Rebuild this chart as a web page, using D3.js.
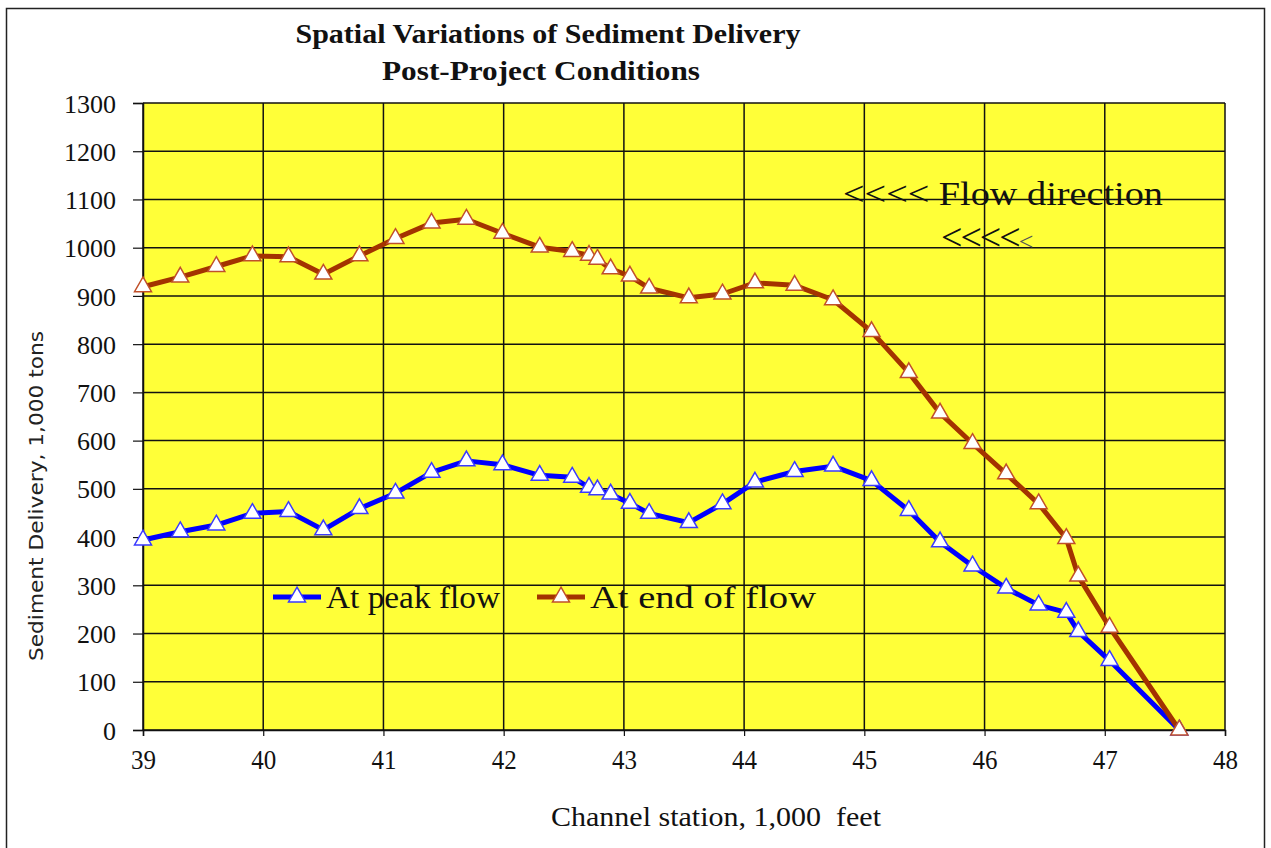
<!DOCTYPE html>
<html>
<head>
<meta charset="utf-8">
<script src="https://cdn.jsdelivr.net/npm/d3@7"></script>
<style>
  body { margin: 0; background: #fff; }
  svg { display: block; }
</style>
</head>
<body>
<svg id="chart" width="1271" height="848"></svg>
<script>
// channel stations, 1,000 ft
var stations = [39.0, 39.31, 39.61, 39.91, 40.21, 40.50, 40.80, 41.10, 41.40, 41.69, 41.99, 42.30,
  42.57, 42.71, 42.78, 42.89, 43.05, 43.21, 43.54, 43.82, 44.09, 44.42, 44.74,
  45.06, 45.37, 45.63, 45.90, 46.18, 46.45, 46.68, 46.78, 47.04, 47.62];
// sediment delivery, 1,000 tons
var peakFlow = [394, 411, 425, 449, 453, 415, 459, 491, 534, 558, 550, 528,
  524, 503, 498, 489, 470, 449, 430, 469, 514, 536, 547,
  517, 455, 390, 340, 294, 259, 244, 204, 144, 0];
var endFlow = [919, 939, 961, 983, 981, 945, 983, 1019, 1051, 1059, 1030, 1001,
  992, 984, 976, 956, 941, 916, 896, 904, 927, 922, 892,
  826, 741, 657, 594, 531, 469, 397, 319, 213, 0];
var xTicks = [39, 40, 41, 42, 43, 44, 45, 46, 47, 48];
var yTicks = d3.range(0, 1301, 100);

var svg = d3.select("#chart");
var serif = "'Liberation Serif', 'Times New Roman', serif";

// plot box (note: "top" is taken by window.top)
var pLeft = 143, pRight = 1225, pTop = 103, pBottom = 730;

var x = d3.scaleLinear().domain([39, 48]).range([pLeft, pRight]);
var y = d3.scaleLinear().domain([0, 1300]).range([pBottom, pTop]);

// outer frame
svg.append("rect")
    .attr("x", 6.5).attr("y", 8.5)
    .attr("width", 1258).attr("height", 850)
    .attr("fill", "none")
    .attr("stroke", "#222")
    .attr("stroke-width", 1.5);

// plot area
svg.append("rect")
    .attr("x", pLeft).attr("y", pTop)
    .attr("width", pRight - pLeft).attr("height", pBottom - pTop)
    .attr("fill", "#ffff38");

// grid
svg.append("g")
  .selectAll("line")
  .data(yTicks)
  .enter().append("line")
    .attr("x1", pLeft).attr("x2", pRight)
    .attr("y1", d => y(d)).attr("y2", d => y(d))
    .attr("stroke", "#111").attr("stroke-width", 1.5);

svg.append("g")
  .selectAll("line")
  .data(xTicks)
  .enter().append("line")
    .attr("x1", d => x(d)).attr("x2", d => x(d))
    .attr("y1", pTop).attr("y2", pBottom)
    .attr("stroke", "#111").attr("stroke-width", 1.5);

// axes
var yAxis = svg.append("g")
    .attr("transform", "translate(" + pLeft + ",0)")
    .call(d3.axisLeft(y).tickValues(yTicks).tickSize(10).tickPadding(17).tickFormat(d3.format("d")));
var xAxis = svg.append("g")
    .attr("transform", "translate(0," + pBottom + ")")
    .call(d3.axisBottom(x).tickValues(xTicks).tickSize(6).tickPadding(13).tickFormat(d3.format("d")));

[yAxis, xAxis].forEach(function(g) {
  g.select(".domain").attr("stroke", "#111").attr("stroke-width", 1.5);
  g.selectAll(".tick line").attr("stroke", "#111").attr("stroke-width", 1.2);
  g.selectAll("text")
    .attr("font-family", serif)
    .attr("fill", "#111");
});
yAxis.selectAll("text").attr("font-size", 26).attr("dy", "0.35em");
xAxis.selectAll("text").attr("font-size", 28)
    .attr("textLength", 25).attr("lengthAdjust", "spacingAndGlyphs");

// series
var line = d3.line()
    .x((d, i) => x(stations[i]))
    .y(d => y(d));

var series = [
  {name: "At peak flow", values: peakFlow, line: "#0000ff", marker: "#3a3aff", len: 174},
  {name: "At end of flow", values: endFlow, line: "#a33300", marker: "#c0502a", len: 226}
];

var tri = d3.symbol().type(d3.symbolTriangle).size(125);

series.forEach(function(s) {
  svg.append("path")
      .attr("d", line(s.values))
      .attr("fill", "none")
      .attr("stroke", s.line)
      .attr("stroke-width", 5)
      .attr("stroke-linejoin", "round");
});

series.forEach(function(s) {
  svg.append("g")
    .selectAll("path")
    .data(s.values)
    .enter().append("path")
      .attr("d", tri)
      .attr("transform", (d, i) => "translate(" + x(stations[i]) + "," + y(d) + ")")
      .attr("fill", "#fff")
      .attr("stroke", s.marker)
      .attr("stroke-width", 1.5);
});

// legend
var legendPos = [{lx: 273, tx: 326}, {lx: 537, tx: 590}];
series.forEach(function(s, i) {
  var p = legendPos[i];
  var g = svg.append("g").attr("transform", "translate(0,597)");
  g.append("line")
      .attr("x1", p.lx).attr("x2", p.lx + 48)
      .attr("stroke", s.line).attr("stroke-width", 5);
  g.append("path")
      .attr("d", tri)
      .attr("transform", "translate(" + (p.lx + 24) + ",0)")
      .attr("fill", "#fff").attr("stroke", s.marker).attr("stroke-width", 1.5);
  g.append("text")
      .attr("x", p.tx).attr("y", 11)
      .attr("font-family", serif).attr("font-size", 32)
      .attr("textLength", s.len).attr("lengthAdjust", "spacingAndGlyphs")
      .attr("fill", "#111")
      .text(s.name);
});

// flow direction note
svg.append("text")
    .attr("x", 843).attr("y", 205)
    .attr("font-family", serif).attr("font-size", 34)
    .attr("fill", "#111")
    .attr("textLength", 320).attr("lengthAdjust", "spacingAndGlyphs")
    .text("<<<< Flow direction");
var arrows = svg.append("text")
    .attr("x", 941).attr("y", 250)
    .attr("font-family", serif).attr("font-size", 38)
    .attr("fill", "#111");
arrows.append("tspan").attr("letter-spacing", -2).text("<<<<");
arrows.append("tspan").attr("font-size", 26).attr("fill", "#555").text("<");

// titles
svg.append("text")
    .attr("x", 548).attr("y", 43)
    .attr("text-anchor", "middle")
    .attr("font-family", serif).attr("font-weight", "bold").attr("font-size", 27)
    .attr("textLength", 505).attr("lengthAdjust", "spacingAndGlyphs")
    .attr("fill", "#111")
    .text("Spatial Variations of Sediment Delivery");
svg.append("text")
    .attr("x", 541).attr("y", 80)
    .attr("text-anchor", "middle")
    .attr("font-family", serif).attr("font-weight", "bold").attr("font-size", 27)
    .attr("textLength", 318).attr("lengthAdjust", "spacingAndGlyphs")
    .attr("fill", "#111")
    .text("Post-Project Conditions");

// axis titles
svg.append("text")
    .attr("transform", "translate(43,496) rotate(-90)")
    .attr("text-anchor", "middle")
    .attr("font-family", "'DejaVu Sans', Verdana, sans-serif").attr("font-size", 19)
    .attr("textLength", 330).attr("lengthAdjust", "spacingAndGlyphs")
    .attr("fill", "#222")
    .text("Sediment Delivery, 1,000 tons");
svg.append("text")
    .attr("x", 716).attr("y", 826)
    .attr("text-anchor", "middle")
    .attr("font-family", serif).attr("font-size", 28)
    .attr("textLength", 330).attr("lengthAdjust", "spacingAndGlyphs")
    .attr("fill", "#111")
    .style("white-space", "pre")
    .text("Channel station, 1,000  feet");
</script>
</body>
</html>
